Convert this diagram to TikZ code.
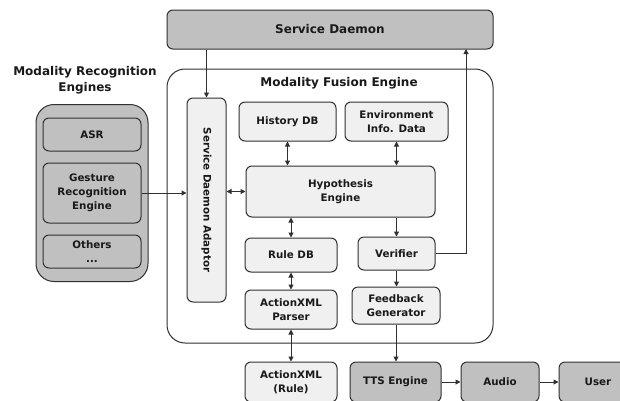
\documentclass[tikz,border=0pt]{standalone}
\usepackage{fontspec}
\setmainfont{DejaVu Sans}
\usepackage{tikz}
\usetikzlibrary{arrows.meta,positioning,calc}
\definecolor{darkgray}{HTML}{C0C0C0}
\definecolor{lightgray}{HTML}{F0F0F0}
\definecolor{edge}{HTML}{303030}

\begin{document}
\begin{tikzpicture}[x=1pt, y=-1pt,
    every node/.style={align=center, font=\bfseries\fontsize{10.3}{14}\selectfont, text=black!90, inner sep=0pt},
    lbox/.style={draw=edge, line width=1pt, rounded corners=6pt, fill=lightgray},
    dbox/.style={draw=edge, line width=1pt, rounded corners=6pt, fill=darkgray},
    title/.style={font=\bfseries\fontsize{12}{16}\selectfont},
    link/.style={draw=edge, line width=1pt, -{Triangle[length=5pt,width=5pt]}},
    blink/.style={draw=edge, line width=1pt, {Triangle[length=5pt,width=5pt]}-{Triangle[length=5pt,width=5pt]}}]
  \useasboundingbox (0,0) rectangle (620,400);
  \clip (0,0) rectangle (620,400);

  % top
  \node[dbox, title, minimum width=326pt, minimum height=39pt] (sd) at (330,29.5) {Service Daemon};

  % recognition engines
  \node[title] (mretitle) at (85,80) {Modality Recognition\\Engines};
  \node[dbox, rounded corners=18pt, minimum width=112pt, minimum height=177pt] (mre) at (92,193) {};
  \node[dbox, minimum width=98pt, minimum height=33pt] (asr) at (92,134.5) {ASR};
  \node[dbox, minimum width=98pt, minimum height=60pt] (gest) at (92,193) {Gesture\\Recognition\\Engine};
  \node[dbox, minimum width=98pt, minimum height=33pt] (others) at (92,251.5) {Others\\...};

  % fusion engine
  \node[draw=edge, line width=1pt, rounded corners=18pt, fill=white, minimum width=326pt, minimum height=274pt] (mfe) at (330,206) {};
  \node[title] (mfetitle) at (339,83) {Modality Fusion Engine};
  \node[lbox, minimum width=39pt, minimum height=204pt] (sda) at (206.5,200) {};
  \node[rotate=-90] (sdatext) at (sda) {Service Daemon Adaptor};
  \node[lbox, minimum width=97pt, minimum height=39pt] (history) at (287.5,121.5) {History DB};
  \node[lbox, minimum width=103pt, minimum height=39pt] (env) at (396.5,121.5) {Environment\\Info. Data};
  \node[lbox, minimum width=189pt, minimum height=51pt] (hyp) at (340.5,191.5) {Hypothesis\\Engine};
  \node[lbox, minimum width=92pt, minimum height=34pt] (ruledb) at (291,255) {Rule DB};
  \node[lbox, minimum width=92pt, minimum height=39pt] (parser) at (291,309.5) {ActionXML\\Parser};
  \node[lbox, minimum width=77pt, minimum height=33pt] (verifier) at (396.5,253.5) {Verifier};
  \node[lbox, minimum width=88pt, minimum height=37pt] (feedback) at (396,305.5) {Feedback\\Generator};

  % bottom row
  \node[lbox, minimum width=92pt, minimum height=40pt] (axrule) at (291,382) {ActionXML\\(Rule)};
  \node[dbox, minimum width=91pt, minimum height=40pt] (tts) at (395.5,382) {TTS Engine};
  \node[dbox, minimum width=78pt, minimum height=40pt] (audio) at (500,382) {Audio};
  \node[dbox, minimum width=78pt, minimum height=40pt] (user) at (598,382) {User};

  % connectors
  \coordinate (vup) at (466,49);
  \draw[link] (sda.north |- sd.south) -- (sda.north);
  \draw[link] (gest.east) -- (gest.east -| sda.west);
  \draw[blink] (hyp.west -| sda.east) -- (hyp.west);
  \draw[blink] (history.south) -- (history.south |- hyp.north);
  \draw[blink] (env.south) -- (env.south |- hyp.north);
  \draw[blink] (ruledb.north |- hyp.south) -- (ruledb.north);
  \draw[link] (verifier.north |- hyp.south) -- (verifier.north);
  \draw[blink] (ruledb.south) -- (parser.north);
  \draw[link] (verifier.south) -- (verifier.south |- feedback.north);
  \draw[blink] (parser.south) -- (axrule.north);
  \draw[link] (feedback.south) -- (feedback.south |- tts.north);
  \draw[link] (verifier.east) -| (vup);
  \draw[link] (tts.east) -- (audio.west);
  \draw[link] (audio.east) -- (user.west);
\end{tikzpicture}
\end{document}
